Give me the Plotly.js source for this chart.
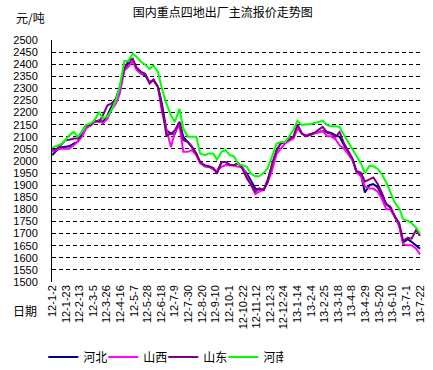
<!DOCTYPE html>
<html>
<head>
<meta charset="utf-8">
<script src="https://cdn.plot.ly/plotly-3.0.1.min.js"></script>
<style>
html,body{margin:0;padding:0;background:#fff;}
#chart{width:433px;height:370px;}
</style>
</head>
<body>
<div id="chart"></div>
<script>
const dates = [
"2012-01-02","2012-01-09","2012-01-15","2012-01-22","2012-01-28","2012-02-04","2012-02-10","2012-02-17","2012-02-23","2012-03-01",
"2012-03-07","2012-03-14","2012-03-20","2012-03-27","2012-04-02","2012-04-09","2012-04-15","2012-04-22","2012-04-28","2012-05-05",
"2012-05-11","2012-05-18","2012-05-24","2012-05-31","2012-06-06","2012-06-13","2012-06-19","2012-06-26","2012-07-03","2012-07-09",
"2012-07-16","2012-07-22","2012-07-29","2012-08-04","2012-08-11","2012-08-17","2012-08-24","2012-08-30","2012-09-06","2012-09-12",
"2012-09-19","2012-09-25","2012-10-02","2012-10-08","2012-10-15","2012-10-21","2012-10-28","2012-11-03","2012-11-10","2012-11-16",
"2012-11-23","2012-11-29","2012-12-06","2012-12-13","2012-12-19","2012-12-26","2013-01-01","2013-01-08","2013-01-14","2013-01-21",
"2013-01-27","2013-02-03","2013-02-09","2013-02-16","2013-02-22","2013-03-01","2013-03-07","2013-03-14","2013-03-20","2013-03-27",
"2013-04-02","2013-04-09","2013-04-15","2013-04-22","2013-04-28","2013-05-05","2013-05-11","2013-05-18","2013-05-24","2013-05-31",
"2013-06-06","2013-06-13","2013-06-20","2013-06-26","2013-07-03","2013-07-09","2013-07-16","2013-07-22"
];

const hebei = [
2024,2045,2056,2058,2061,2072,2079,2113,2141,2148,
2161,2168,2161,2189,2223,2251,2292,2381,2402,2413,
2381,2361,2354,2326,2333,2306,2237,2127,2113,2113,
2161,2100,2079,2058,2031,1992,1978,1976,1969,1955,
1996,1996,1983,1983,1990,1969,1948,1921,1886,1882,
1882,1921,1983,2045,2072,2079,2089,2100,2144,2113,
2106,2113,2116,2120,2124,2120,2116,2106,2100,2065,
2038,2003,1955,1945,1870,1900,1905,1891,1856,1822,
1808,1773,1732,1663,1677,1666,1652,1638
];

const shanxi = [
2038,2047,2051,2051,2051,2065,2079,2100,2134,2148,
2161,2168,2155,2175,2210,2237,2278,2374,2388,2413,
2377,2361,2361,2326,2336,2306,2203,2130,2058,2120,
2148,2038,2038,2045,2024,1992,1978,1978,1965,1959,
1976,1983,1983,1980,1976,1976,1937,1900,1863,1873,
1882,1910,1962,2031,2051,2072,2083,2093,2134,2113,
2106,2106,2113,2120,2124,2102,2102,2089,2065,2051,
2031,2003,1955,1937,1895,1886,1886,1873,1845,1801,
1801,1770,1732,1656,1652,1652,1638,1614
];

const shandong = [
2045,2051,2065,2086,2088,2093,2093,2120,2148,2148,
2168,2161,2189,2230,2237,2258,2306,2381,2413,2423,
2386,2368,2361,2320,2336,2306,2223,2106,2113,2127,
2161,2086,2079,2061,2031,1996,1983,1978,1972,1948,
1996,1996,1983,1983,1990,1969,1928,1904,1873,1887,
1880,1914,1990,2045,2072,2079,2089,2102,2152,2113,
2102,2111,2116,2130,2141,2116,2113,2100,2120,2072,
2045,2010,1959,1951,1915,1925,1932,1904,1870,1822,
1812,1773,1743,1670,1683,1679,1715,1690
];

const henan = [
2055,2061,2069,2086,2106,2120,2100,2120,2148,2155,
2168,2203,2175,2185,2210,2251,2306,2413,2413,2443,
2430,2409,2399,2381,2395,2368,2299,2237,2189,2161,
2216,2134,2100,2100,2100,2031,2024,2031,2031,2006,
2038,2045,2024,2020,1987,1983,1976,1948,1937,1937,
1951,1969,2024,2072,2079,2079,2100,2130,2166,2148,
2152,2152,2157,2161,2166,2148,2144,2144,2141,2106,
2079,2051,2024,1990,1950,1980,1978,1967,1946,1911,
1873,1828,1804,1759,1753,1743,1725,1700
];

const seriesNames = ["河北","山西","山东","河南"];
const seriesColors = ["#000080","#FF00FF","#800080","#00FF00"];
const seriesData = [hebei, shanxi, shandong, henan];

const tickDates = [
"2012-01-02","2012-01-23","2012-02-13","2012-03-05","2012-03-26","2012-04-16","2012-05-07","2012-05-28","2012-06-18","2012-07-09",
"2012-07-30","2012-08-20","2012-09-10","2012-10-01","2012-10-22","2012-11-12","2012-12-03","2012-12-24","2013-01-14","2013-02-04",
"2013-02-25","2013-03-18","2013-04-08","2013-04-29","2013-05-20","2013-06-10","2013-07-01","2013-07-22"
];
const tickLabels = [
"12-1-2","12-1-23","12-2-13","12-3-5","12-3-26","12-4-16","12-5-7","12-5-28","12-6-18","12-7-9",
"12-7-30","12-8-20","12-9-10","12-10-1","12-10-22","12-11-12","12-12-3","12-12-24","13-1-14","13-2-4",
"13-2-25","13-3-18","13-4-8","13-4-29","13-5-20","13-6-10","13-7-1","13-7-22"
];

const traces = seriesNames.map((n,i)=>({
  type:'scatter', mode:'lines', name:n, x:dates, y:seriesData[i],
  line:{color:seriesColors[i], width:2}
}));

const cjk = '"Noto Sans CJK SC", sans-serif';
const layout = {
  width:433, height:370,
  margin:{l:52, r:10, t:40, b:88, autoexpand:false},
  paper_bgcolor:'#fff', plot_bgcolor:'#fff',
  showlegend:true,
  title:{text:'国内重点四地出厂主流报价走势图', font:{family:cjk, size:12, color:'#000'},
         xref:'paper', x:0.46, xanchor:'center', yref:'container', y:0.965, yanchor:'middle'},
  xaxis:{type:'date', range:['2012-01-01 12:00','2013-07-26 15:00'], automargin:false,
         tickmode:'array', tickvals:tickDates, ticktext:tickLabels, tickangle:-90,
         showgrid:false, zeroline:false, showline:false, ticks:'',
         tickfont:{family:'"Liberation Sans", Arial, sans-serif', size:11, color:'#000'}},
  yaxis:{range:[1500,2500], dtick:50, tick0:1500, showgrid:true, gridcolor:'#000', gridwidth:1,
         automargin:false,
         griddash:'4px,3px', zeroline:false, showline:true, linecolor:'#000', linewidth:1, ticks:'',
         ticklabelstandoff:11,
         tickfont:{family:'"Liberation Sans", Arial, sans-serif', size:11, color:'#000'}},
  legend:{orientation:'h', xref:'container', x:0.1, xanchor:'left', yref:'container', y:0.035, yanchor:'middle',
          font:{family:cjk, size:12, color:'#000'}, itemwidth:30, traceorder:'normal',
          entrywidth:15, entrywidthmode:'pixels',
          bgcolor:'rgba(0,0,0,0)'},
  annotations:[
    {text:'元/吨', xref:'paper', yref:'paper', x:-0.059, y:1.091, xanchor:'center', yanchor:'middle',
     showarrow:false, font:{family:cjk, size:12, color:'#000'}},
    {text:'日期', xref:'paper', yref:'paper', x:-0.073, y:-0.116, xanchor:'center', yanchor:'middle',
     showarrow:false, font:{family:cjk, size:12, color:'#000'}}
  ]
};

Plotly.newPlot('chart', traces, layout, {displayModeBar:false, staticPlot:true});
</script>
</body>
</html>
